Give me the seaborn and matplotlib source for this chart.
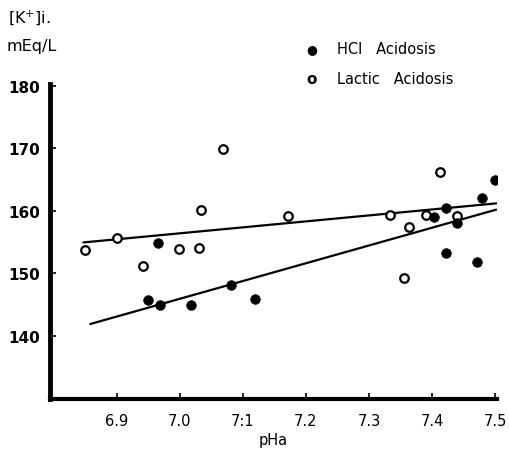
import matplotlib
matplotlib.use("Agg")
import matplotlib.pyplot as plt
import seaborn as sns
import pandas as pd

# HCl acidosis (filled circles)
hcl_pha = [6.950, 6.966, 6.969, 7.018, 7.081, 7.120, 7.403, 7.422, 7.422, 7.440, 7.472, 7.480, 7.500]
hcl_k = [145.8, 154.8, 145.0, 145.0, 148.2, 145.9, 159.0, 160.5, 153.2, 158.0, 151.9, 162.0, 164.9]

# Lactic acidosis (open circles)
lac_pha = [6.850, 6.901, 6.942, 6.999, 7.031, 7.033, 7.069, 7.171, 7.334, 7.356, 7.364, 7.391, 7.413, 7.439]
lac_k = [153.7, 155.6, 151.2, 153.9, 154.1, 160.2, 169.9, 159.2, 159.4, 149.3, 157.4, 159.4, 166.2, 159.2]

# Regression lines as drawn (endpoints)
lac_fit_x = [6.847, 7.502]
lac_fit_y = [154.95, 161.2]
hcl_fit_x = [6.858, 7.502]
hcl_fit_y = [141.9, 160.2]

xticks = [6.9, 7.0, 7.1, 7.2, 7.3, 7.4, 7.5]
xticklabels = ["6.9", "7.0", "7:1", "7.2", "7.3", "7.4", "7.5"]
yticks = [140, 150, 160, 170, 180]

sns.set_style("ticks")
plt.rcParams['font.family'] = ['DejaVu Sans']
plt.rcParams['axes.edgecolor'] = 'black'
plt.rcParams['text.color'] = 'black'
plt.rcParams['axes.labelcolor'] = 'black'
plt.rcParams['xtick.color'] = 'black'
plt.rcParams['ytick.color'] = 'black'

fig = plt.figure(figsize=(5.09, 4.56), dpi=100)
ax = fig.add_axes([0.0982, 0.1228, 0.878, 0.6908])

df_h = pd.DataFrame({"pHa": hcl_pha, "K": hcl_k})
df_l = pd.DataFrame({"pHa": lac_pha, "K": lac_k})

sns.lineplot(x=lac_fit_x, y=lac_fit_y, ax=ax, color="black", linewidth=1.6)
sns.lineplot(x=hcl_fit_x, y=hcl_fit_y, ax=ax, color="black", linewidth=1.6)

sns.scatterplot(data=df_l, x="pHa", y="K", ax=ax, s=38, facecolor="white",
                edgecolor="black", linewidth=1.6, zorder=3)
sns.scatterplot(data=df_h, x="pHa", y="K", ax=ax, s=48, color="black",
                edgecolor="black", linewidth=0.5, zorder=4)

ax.set_xlim(6.794, 7.503)
ax.set_ylim(129.9, 180.3)
ax.set_xticks(xticks)
ax.set_xticklabels(xticklabels, fontsize=10.5)
ax.set_yticks(yticks)
ax.set_yticklabels([str(v) for v in yticks], fontsize=11, fontweight="bold")
ax.tick_params(axis="both", direction="in", length=4, width=1.2)
ax.tick_params(axis="x", pad=10)
ax.tick_params(axis="y", pad=7)
ax.set_xlabel("pHa", fontsize=10.5, labelpad=3)
ax.set_ylabel("")
sns.despine(ax=ax, top=True, right=True)
ax.spines["left"].set_linewidth(3.5)
ax.spines["bottom"].set_linewidth(3.0)

# y-axis label (top-left)
fig.text(0.015, 0.962, "[K$^{+}$]i.", fontsize=11.5, ha="left", va="center")
fig.text(0.012, 0.898, "mEq/L", fontsize=11.5, ha="left", va="center")

# legend drawn as markers + text
fig.text(0.612, 0.892, "\u25CF", fontsize=9, ha="center", va="center")
fig.text(0.612, 0.825, "o", fontsize=11, fontweight="bold", ha="center", va="center")
fig.text(0.662, 0.892, "HCl   Acidosis", fontsize=10.5, ha="left", va="center")
fig.text(0.662, 0.825, "Lactic   Acidosis", fontsize=10.5, ha="left", va="center")

fig.savefig("out.png", dpi=100)
